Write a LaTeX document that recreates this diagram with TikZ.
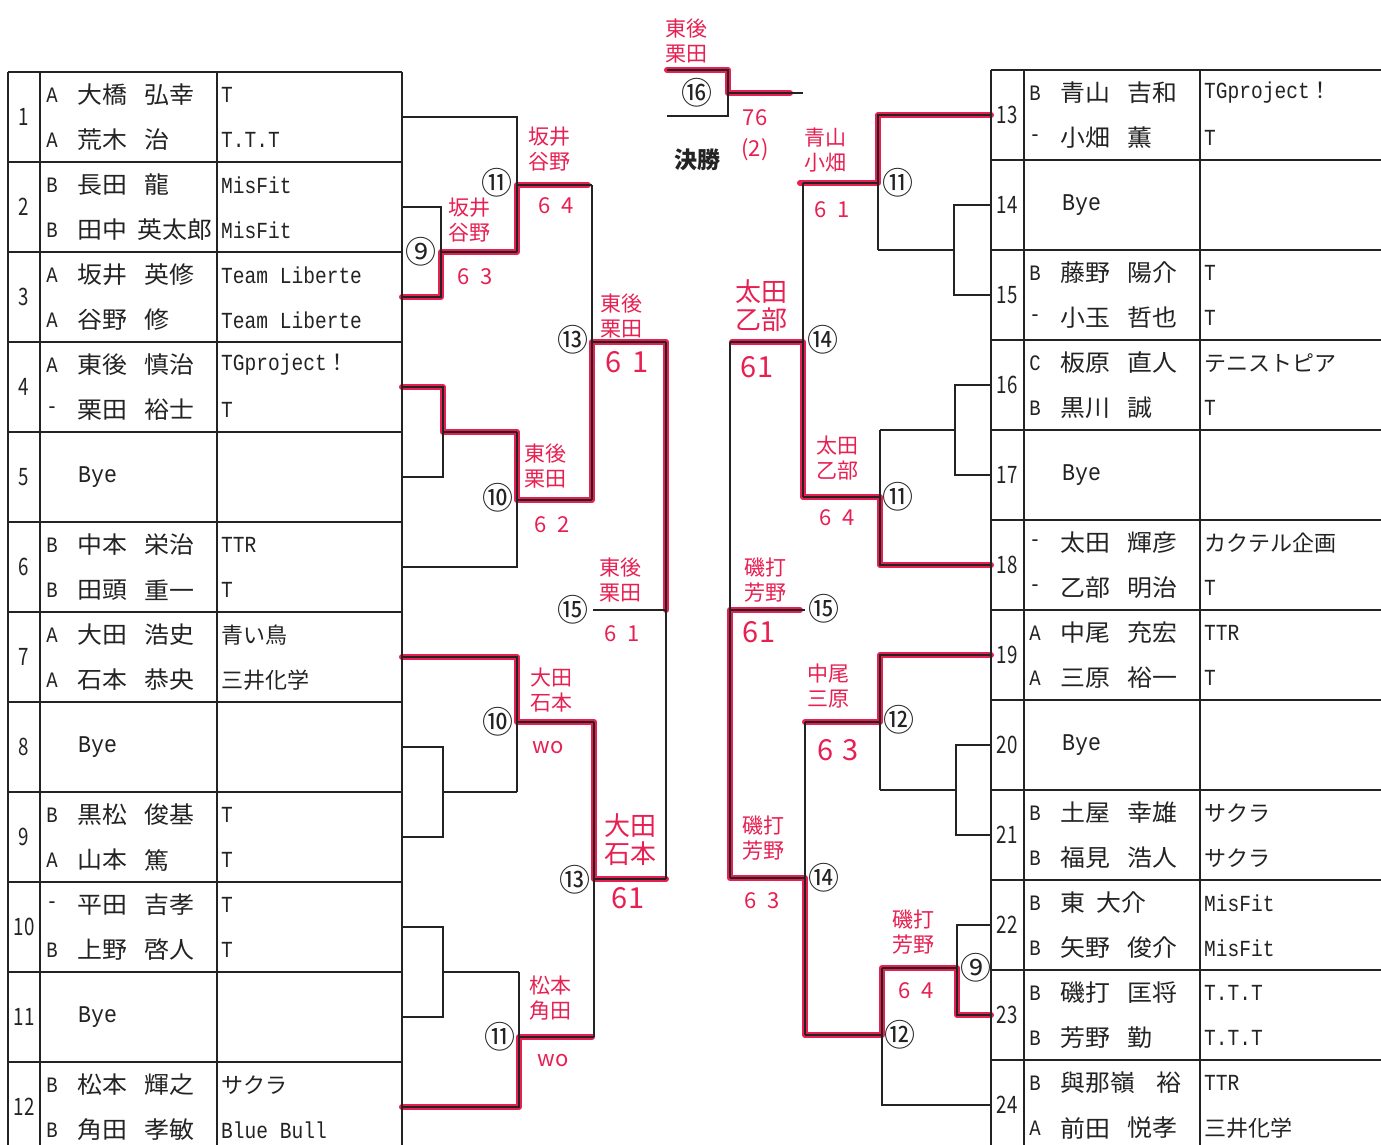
\documentclass[tikz,border=0pt]{standalone}
\usepackage{fontspec}
\usepackage{graphicx}
\setmainfont{Noto Sans CJK JP}
\newfontfamily\monof{Liberation Mono}
\definecolor{pen}{RGB}{232,32,82}
\definecolor{ink}{RGB}{35,35,35}
\newcommand\lat[1]{\scalebox{0.85}[1]{\monof\fontsize{23}{23}\selectfont #1}}
\newcommand\rownum[3]{\node[numtxt] (num#3) at (#1+16,#2+45) {#3};}
\newcommand\player[7]{%
 \node[lettxt] (l#3) at (#1+44,#2) {#4};
 \node[nametxt] (s#3) at (#1+69,#2) {#5};
 \node[nametxt] (g#3) at (#1+136,#2) {#6};
 \node[clubtxt] (c#3) at (#1+213,#2) {#7};}
\tikzset{
 blk/.style={draw=ink,line width=2.2pt},
 tbl/.style={draw=ink,line width=2.6pt},
 win/.style={draw=pen,line width=6pt,line join=round,line cap=round},
 numtxt/.style={inner sep=0pt,font=\fontsize{24}{24}\selectfont,xscale=0.78,text=ink},
 lettxt/.style={inner sep=0pt,font=\monof\fontsize{22}{22}\selectfont,xscale=0.86,text=ink},
 nametxt/.style={inner sep=0pt,anchor=west,font=\fontsize{23.5}{23.5}\selectfont,xscale=1.06,text=ink},
 clubtxt/.style={inner sep=0pt,anchor=west,font=\fontsize{22}{22}\selectfont,text=ink},
 byetxt/.style={inner sep=0pt,anchor=west,font=\monof\fontsize{24}{24}\selectfont,xscale=0.9,text=ink},
 circ/.style={inner sep=0pt,font=\fontsize{31}{31}\selectfont,text=ink},
 hw/.style={inner sep=0pt,align=center,text=pen,font=\fontsize{21}{25}\selectfont},
 hwl/.style={inner sep=0pt,align=center,text=pen,font=\fontsize{26}{28}\selectfont},
 score/.style={inner sep=0pt,text=pen,font=\fontsize{22}{22}\selectfont},
 scorel/.style={inner sep=0pt,text=pen,font=\fontsize{29}{29}\selectfont},
}
\begin{document}
\begin{tikzpicture}[x=1pt,y=-1pt]
\useasboundingbox (0,0) rectangle (1381,1144);
\clip (0,0) rectangle (1381,1144);
\fill[white] (0,0) rectangle (1381,1144);

% ---------- winner paths (red) ----------
\draw[win] (402,297) -- (441,297) -- (441,252) -- (517,252) -- (517,185) -- (588,185);
\draw[win] (402,387) -- (443,387) -- (443,432) -- (517,432) -- (517,500) -- (592,500) -- (592,342) -- (666,342) -- (666,610);
\draw[win] (402,657) -- (517,657) -- (517,722) -- (594,722) -- (594,879) -- (666,879);
\draw[win] (402,1107) -- (519,1107) -- (519,1037) -- (592,1037);
\draw[win] (991,115) -- (878,115) -- (878,183) -- (800,183);
\draw[win] (991,565) -- (880,565) -- (880,497) -- (803,497) -- (803,342) -- (732,342);
\draw[win] (991,655) -- (880,655) -- (880,722) -- (805,722);
\draw[win] (991,1015) -- (957,1015) -- (957,968) -- (882,968) -- (882,1035) -- (805,1035) -- (805,878) -- (730,878) -- (730,610) -- (800,610);
\draw[win] (667,70) -- (728,70) -- (728,93) -- (790,93);

% ---------- bracket lines, left ----------
\draw[blk] (402,207) -| (441,297) -- (402,297);
\draw[blk] (441,252) -- (517,252);
\draw[blk] (402,117) -| (517,252);
\draw[blk] (517,185) -- (592,185);
\draw[blk] (402,387) -| (443,477) -- (402,477);
\draw[blk] (443,432) -- (517,432);
\draw[blk] (402,567) -| (517,432);
\draw[blk] (517,500) -- (592,500);
\draw[blk] (592,185) -- (592,500);
\draw[blk] (592,342) -- (666,342);
\draw[blk] (402,657) -| (517,792);
\draw[blk] (402,747) -| (443,837) -- (402,837);
\draw[blk] (443,792) -- (517,792);
\draw[blk] (517,722) -- (594,722);
\draw[blk] (402,927) -| (443,1017) -- (402,1017);
\draw[blk] (443,972) -- (519,972);
\draw[blk] (402,1107) -| (519,972);
\draw[blk] (519,1037) -- (594,1037);
\draw[blk] (594,722) -- (594,1037);
\draw[blk] (594,879) -- (666,879);
\draw[blk] (666,342) -- (666,879);
\draw[blk] (666,610) -- (593,610);

% ---------- bracket lines, right ----------
\draw[blk] (991,115) -| (878,250);
\draw[blk] (991,205) -| (954,295) -- (991,295);
\draw[blk] (954,250) -- (878,250);
\draw[blk] (878,183) -- (803,183);
\draw[blk] (991,385) -| (955,475) -- (991,475);
\draw[blk] (955,430) -- (880,430);
\draw[blk] (991,565) -| (880,430);
\draw[blk] (880,497) -- (803,497);
\draw[blk] (803,183) -- (803,497);
\draw[blk] (803,342) -- (730,342);
\draw[blk] (991,655) -| (880,790);
\draw[blk] (991,745) -| (956,835) -- (991,835);
\draw[blk] (956,790) -- (880,790);
\draw[blk] (880,722) -- (805,722);
\draw[blk] (991,925) -| (957,1015) -- (991,1015);
\draw[blk] (957,968) -- (882,968);
\draw[blk] (991,1105) -| (882,968);
\draw[blk] (882,1035) -- (805,1035);
\draw[blk] (805,722) -- (805,1035);
\draw[blk] (805,878) -- (730,878);
\draw[blk] (730,342) -- (730,878);
\draw[blk] (730,610) -- (805,610);

% ---------- final ----------
\draw[blk] (667,70) -| (728,116) -- (667,116);
\draw[blk] (728,93) -- (803,93);

% ---------- tables ----------
\foreach \k in {0,...,12} \draw[tbl] (8,72+90*\k) -- (402,72+90*\k);
\foreach \xx in {8,40,217,402} \draw[tbl] (\xx,72) -- (\xx,1160);
\foreach \k in {0,...,12} \draw[tbl] (991,70+90*\k) -- (1395,70+90*\k);
\foreach \xx in {991,1024,1200} \draw[tbl] (\xx,70) -- (\xx,1160);

% ---------- left entries ----------
\rownum{8}{72}{1}
\player{8}{95}{1a}{A}{大橋}{弘幸}{\lat{T}}
\player{8}{140}{1b}{A}{荒木}{治}{\lat{T.T.T}}
\rownum{8}{162}{2}
\player{8}{185}{2a}{B}{長田}{龍}{\lat{MisFit}}
\player{8}{230}{2b}{B}{田中}{\hspace{-6pt}英太郎}{\lat{MisFit}}
\rownum{8}{252}{3}
\player{8}{275}{3a}{A}{坂井}{英修}{\lat{Team Liberte}}
\player{8}{320}{3b}{A}{谷野}{修}{\lat{Team Liberte}}
\rownum{8}{342}{4}
\player{8}{365}{4a}{A}{東後}{慎治}{\lat{TGproject}！}
\player{8}{410}{4b}{-}{栗田}{裕士}{\lat{T}}
\rownum{8}{432}{5}
\node[byetxt] (bye5) at (78,477) {Bye};
\rownum{8}{522}{6}
\player{8}{545}{6a}{B}{中本}{栄治}{\lat{TTR}}
\player{8}{590}{6b}{B}{田頭}{重一}{\lat{T}}
\rownum{8}{612}{7}
\player{8}{635}{7a}{A}{大田}{浩史}{青い鳥}
\player{8}{680}{7b}{A}{石本}{恭央}{三井化学}
\rownum{8}{702}{8}
\node[byetxt] (bye8) at (78,747) {Bye};
\rownum{8}{792}{9}
\player{8}{815}{9a}{B}{黒松}{俊基}{\lat{T}}
\player{8}{860}{9b}{A}{山本}{篤}{\lat{T}}
\rownum{8}{882}{10}
\player{8}{905}{10a}{-}{平田}{吉孝}{\lat{T}}
\player{8}{950}{10b}{B}{上野}{啓人}{\lat{T}}
\rownum{8}{972}{11}
\node[byetxt] (bye11) at (78,1017) {Bye};
\rownum{8}{1062}{12}
\player{8}{1085}{12a}{B}{松本}{輝之}{サクラ}
\player{8}{1130}{12b}{B}{角田}{孝敏}{\lat{Blue Bull}}

% ---------- right entries ----------
\rownum{991}{70}{13}
\player{991}{93}{13a}{B}{青山}{吉和}{\lat{TGproject}！}
\player{991}{138}{13b}{-}{小畑}{薫}{\lat{T}}
\rownum{991}{160}{14}
\node[byetxt] (bye14) at (1062,205) {Bye};
\rownum{991}{250}{15}
\player{991}{273}{15a}{B}{藤野}{陽介}{\lat{T}}
\player{991}{318}{15b}{-}{小玉}{哲也}{\lat{T}}
\rownum{991}{340}{16}
\player{991}{363}{16a}{C}{板原}{直人}{テニストピア}
\player{991}{408}{16b}{B}{黒川}{誠}{\lat{T}}
\rownum{991}{430}{17}
\node[byetxt] (bye17) at (1062,475) {Bye};
\rownum{991}{520}{18}
\player{991}{543}{18a}{-}{太田}{輝彦}{カクテル企画}
\player{991}{588}{18b}{-}{乙部}{明治}{\lat{T}}
\rownum{991}{610}{19}
\player{991}{633}{19a}{A}{中尾}{充宏}{\lat{TTR}}
\player{991}{678}{19b}{A}{三原}{裕一}{\lat{T}}
\rownum{991}{700}{20}
\node[byetxt] (bye20) at (1062,745) {Bye};
\rownum{991}{790}{21}
\player{991}{813}{21a}{B}{土屋}{幸雄}{サクラ}
\player{991}{858}{21b}{B}{福見}{浩人}{サクラ}
\rownum{991}{880}{22}
\player{991}{903}{22a}{B}{東\hspace{11pt}大介}{}{\lat{MisFit}}
\player{991}{948}{22b}{B}{矢野}{俊介}{\lat{MisFit}}
\rownum{991}{970}{23}
\player{991}{993}{23a}{B}{磯打}{匡将}{\lat{T.T.T}}
\player{991}{1038}{23b}{B}{芳野}{勤}{\lat{T.T.T}}
\rownum{991}{1060}{24}
\player{991}{1083}{24a}{B}{與那嶺}{\hspace{28pt}裕}{\lat{TTR}}
\player{991}{1128}{24b}{A}{前田}{悦孝}{三井化学}

% ---------- match numbers ----------
\node[circ] (mL9) at (421,252) {⑨};
\node[circ] (mL11a) at (497,183) {⑪};
\node[circ] (mL13a) at (573,340) {⑬};
\node[circ] (mL10a) at (498,498) {⑩};
\node[circ] (mL15) at (573,610) {⑮};
\node[circ] (mL10b) at (498,722) {⑩};
\node[circ] (mL13b) at (575,880) {⑬};
\node[circ] (mL11b) at (500,1037) {⑪};
\node[circ] (mF16) at (697,93) {⑯};
\node[circ] (mR11a) at (898,183) {⑪};
\node[circ] (mR14a) at (823,340) {⑭};
\node[circ] (mR11b) at (898,497) {⑪};
\node[circ] (mR15) at (824,609) {⑮};
\node[circ] (mR12a) at (899,720) {⑫};
\node[circ] (mR14b) at (824,878) {⑭};
\node[circ] (mR9) at (976,968) {⑨};
\node[circ] (mR12b) at (900,1035) {⑫};

% ---------- handwritten results ----------
\node[hw] (w1) at (549,149) {坂井\\谷野};
\node[score] (s1) at (556,206) {6\hspace{0.5em}4};
\node[hw] (w2) at (469,220) {坂井\\谷野};
\node[score] (s2) at (475,277) {6\hspace{0.5em}3};
\node[hw] (w3) at (621,316) {東後\\栗田};
\node[scorel] (s3) at (627,362) {6\hspace{0.4em}1};
\node[hw] (w4) at (545,466) {東後\\栗田};
\node[score] (s4) at (552,525) {6\hspace{0.5em}2};
\node[hw] (w5) at (620,580) {東後\\栗田};
\node[score] (s5) at (622,634) {6\hspace{0.5em}1};
\node[hw] (w6) at (551,690) {大田\\石本};
\node[score] (s6) at (548,748) {wo};
\node[hwl] (w7) at (630,840) {大田\\石本};
\node[scorel] (s7) at (628,898) {61};
\node[hw] (w8) at (550,998) {松本\\角田};
\node[score] (s8) at (553,1060) {wo};
\node[hw] (w9) at (825,150) {青山\\小畑};
\node[score] (s9) at (832,210) {6\hspace{0.5em}1};
\node[hwl] (w10) at (761,306) {太田\\乙部};
\node[scorel] (s10) at (757,367) {61};
\node[hw] (w11) at (837,458) {太田\\乙部};
\node[score] (s11) at (837,518) {6\hspace{0.5em}4};
\node[hw] (w12) at (765,580) {磯打\\芳野};
\node[scorel] (s12) at (759,632) {61};
\node[hw] (w13) at (828,686) {中尾\\三原};
\node[scorel] (s13) at (838,750) {6\hspace{0.3em}3};
\node[hw] (w14) at (763,838) {磯打\\芳野};
\node[score] (s14) at (762,901) {6\hspace{0.5em}3};
\node[hw] (w15) at (913,932) {磯打\\芳野};
\node[score] (s15) at (916,991) {6\hspace{0.5em}4};
\node[hw] (wF) at (686,41) {東後\\栗田};
\node[score] (sF1) at (755,118) {76};
\node[score] (sF2) at (755,150) {(2)};
\node[inner sep=0pt,text=ink,font=\bfseries\fontsize{23}{23}\selectfont] (final) at (697,160) {決勝};
\end{tikzpicture}
\end{document}
